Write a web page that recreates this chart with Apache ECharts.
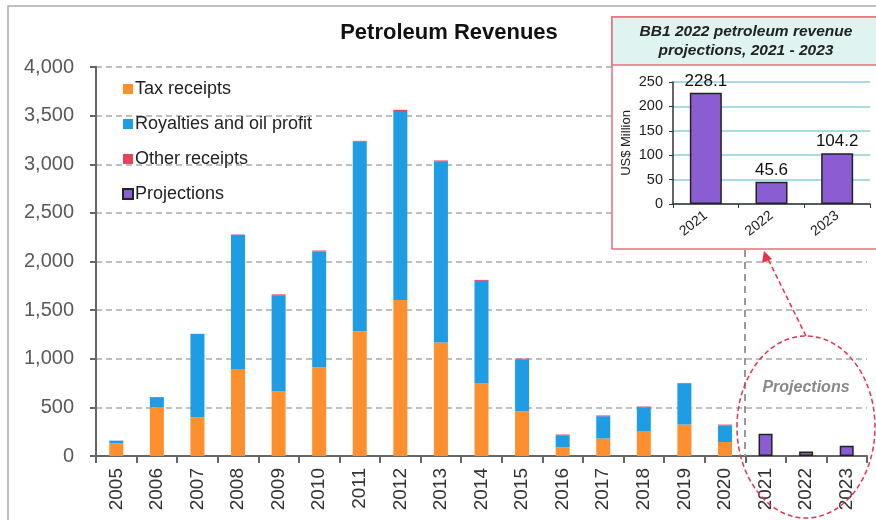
<!DOCTYPE html>
<html>
<head>
<meta charset="utf-8">
<script src="https://cdn.jsdelivr.net/npm/echarts@6/dist/echarts.min.js"></script>
<style>
  html, body { margin: 0; padding: 0; background: #fff; }
  #main { width: 876px; height: 520px; }
</style>
</head>
<body>
<div id="main"></div>
<script>
// main chart data (US$ million)
var years = ['2005','2006','2007','2008','2009','2010','2011','2012','2013','2014',
             '2015','2016','2017','2018','2019','2020','2021','2022','2023'];
var taxReceipts = [130, 500, 400, 895, 663, 913, 1283, 1605, 1167, 745, 460, 90, 180, 257, 323, 144, '-', '-', '-'];
var royalties   = [28, 105, 855, 1380, 985, 1190, 1950, 1942, 1860, 1056, 532, 123, 229, 244, 425, 169, '-', '-', '-'];
var otherReceipts = [0, 2, 2, 3, 14, 10, 8, 13, 12, 10, 10, 8, 8, 8, 3, 10, '-', '-', '-'];
var projections = ['-','-','-','-','-','-','-','-','-','-','-','-','-','-','-','-', 228.1, 45.6, 104.2];

// inset data
var insetYears = ['2021', '2022', '2023'];
var insetValues = [228.1, 45.6, 104.2];

var myChart = echarts.init(document.getElementById('main'));

var fontFam = 'Liberation Sans, Arial, sans-serif';

myChart.setOption({
    animation: false,
    backgroundColor: '#fff',
    title: {
        text: 'Petroleum Revenues',
        left: 444,
        top: 17,
        textAlign: 'center',
        textStyle: { fontFamily: fontFam, fontSize: 22, fontWeight: 'bold', color: '#111' }
    },
    legend: {
        orient: 'vertical',
        left: 117,
        top: 73,
        itemWidth: 10,
        itemHeight: 10,
        itemGap: 13,
        icon: 'rect',
        textStyle: { fontFamily: fontFam, fontSize: 18, color: '#222', lineHeight: 22, padding: [0, 0, 0, -3] },
        data: ['Tax receipts', 'Royalties and oil profit', 'Other receipts', 'Projections']
    },
    grid: [
        { left: 96, top: 67, width: 771, height: 389 },
        { left: 673, top: 82, width: 197, height: 122 }
    ],
    xAxis: [{
        type: 'category',
        gridIndex: 0,
        data: years,
        axisLine: { lineStyle: { color: '#666', width: 2 } },
        axisTick: { show: true, length: 7, lineStyle: { color: '#666', width: 2 } },
        axisLabel: { rotate: 90, fontFamily: fontFam, fontSize: 19, color: '#333', margin: 12 }
    }, {
        type: 'category',
        gridIndex: 1,
        data: insetYears,
        z: 6,
        axisLine: { lineStyle: { color: '#333', width: 1.5 } },
        axisTick: { show: true, length: 4, lineStyle: { color: '#333' } },
        axisLabel: { rotate: 38, fontFamily: fontFam, fontSize: 14, color: '#222', margin: 10 }
    }],
    yAxis: [{
        type: 'value',
        gridIndex: 0,
        min: 0,
        max: 4000,
        interval: 500,
        axisLine: { show: true, lineStyle: { color: '#666', width: 2 } },
        axisTick: { show: true, length: 6, lineStyle: { color: '#666', width: 2 } },
        axisLabel: {
            fontFamily: fontFam, fontSize: 20, color: '#595959', margin: 22,
            formatter: function (v) { return v.toLocaleString('en-US'); }
        },
        splitLine: { lineStyle: { color: '#aaa', type: [6, 4], width: 1.5 } }
    }, {
        type: 'value',
        gridIndex: 1,
        min: 0,
        max: 250,
        interval: 50,
        z: 6,
        name: 'US$ Million',
        nameLocation: 'middle',
        nameGap: 40,
        nameTextStyle: { fontFamily: fontFam, fontSize: 13, color: '#222' },
        axisLine: { show: true, lineStyle: { color: '#333', width: 1.5 } },
        axisTick: { show: true, length: 4, lineStyle: { color: '#333' } },
        axisLabel: { fontFamily: fontFam, fontSize: 14.5, color: '#222', margin: 10 },
        splitLine: { lineStyle: { color: '#a8dbe3', width: 2 } }
    }],
    series: [{
        name: 'Tax receipts',
        type: 'bar',
        stack: 'rev',
        barWidth: 14,
        itemStyle: { color: '#fd8f2f' },
        data: taxReceipts
    }, {
        name: 'Royalties and oil profit',
        type: 'bar',
        stack: 'rev',
        barWidth: 14,
        itemStyle: { color: '#1e9ce4' },
        data: royalties
    }, {
        name: 'Other receipts',
        type: 'bar',
        stack: 'rev',
        barWidth: 14,
        itemStyle: { color: '#e6445c' },
        data: otherReceipts
    }, {
        name: 'Projections',
        type: 'bar',
        stack: 'rev',
        barWidth: 14,
        itemStyle: { color: '#8a5ed2', borderColor: '#222', borderWidth: 1.5 },
        data: projections
    }, {
        name: 'inset',
        type: 'bar',
        xAxisIndex: 1,
        yAxisIndex: 1,
        z: 7,
        barWidth: 32,
        itemStyle: { color: '#8a5ed2', borderColor: '#222', borderWidth: 1.5 },
        label: {
            show: true,
            position: 'top',
            distance: 3,
            fontFamily: fontFam,
            fontSize: 17,
            color: '#111'
        },
        data: insetValues
    }],
    graphic: [
        // outer frame
        { type: 'rect', z: 0, silent: true, shape: { x: 8, y: 6, width: 900, height: 540 },
          style: { fill: null, stroke: '#aaa', lineWidth: 1.5 } },
        // inset box
        { type: 'rect', z: 4, silent: true, shape: { x: 612, y: 17, width: 280, height: 232 },
          style: { fill: '#fff', stroke: '#e8707a', lineWidth: 1.5 } },
        { type: 'rect', z: 4, silent: true, shape: { x: 612, y: 17, width: 280, height: 48 },
          style: { fill: '#dff3f0', stroke: '#e8707a', lineWidth: 1.5 } },
        { type: 'text', z: 5, silent: true, x: 746, y: 41,
          style: { text: 'BB1 2022 petroleum revenue\nprojections, 2021 - 2023', fill: '#222',
                   font: 'italic bold 15.5px ' + fontFam, lineHeight: 19,
                   align: 'center', verticalAlign: 'middle' } },
        // projection divider
        { type: 'line', z: 3, silent: true, shape: { x1: 745, y1: 250, x2: 745, y2: 456 },
          style: { stroke: '#999', lineWidth: 2, lineDash: [7, 5] } },
        // projections ellipse
        { type: 'ellipse', z: 3, silent: true, shape: { cx: 806, cy: 427, rx: 69, ry: 91 },
          style: { fill: null, stroke: '#e6334e', lineWidth: 1.5, lineDash: [5, 3] } },
        { type: 'text', z: 3, silent: true, x: 806, y: 388,
          style: { text: 'Projections', fill: '#888', font: 'italic bold 16px ' + fontFam,
                   align: 'center', verticalAlign: 'middle' } },
        // arrow to inset
        { type: 'line', z: 3, silent: true, shape: { x1: 806, y1: 336, x2: 767, y2: 257 },
          style: { stroke: '#e6334e', lineWidth: 1.5, lineDash: [5, 3] } },
        { type: 'polygon', z: 5, silent: true, shape: { points: [[764, 251], [762, 263], [772, 259]] },
          style: { fill: '#e6334e' } }
    ]
});
</script>
</body>
</html>
